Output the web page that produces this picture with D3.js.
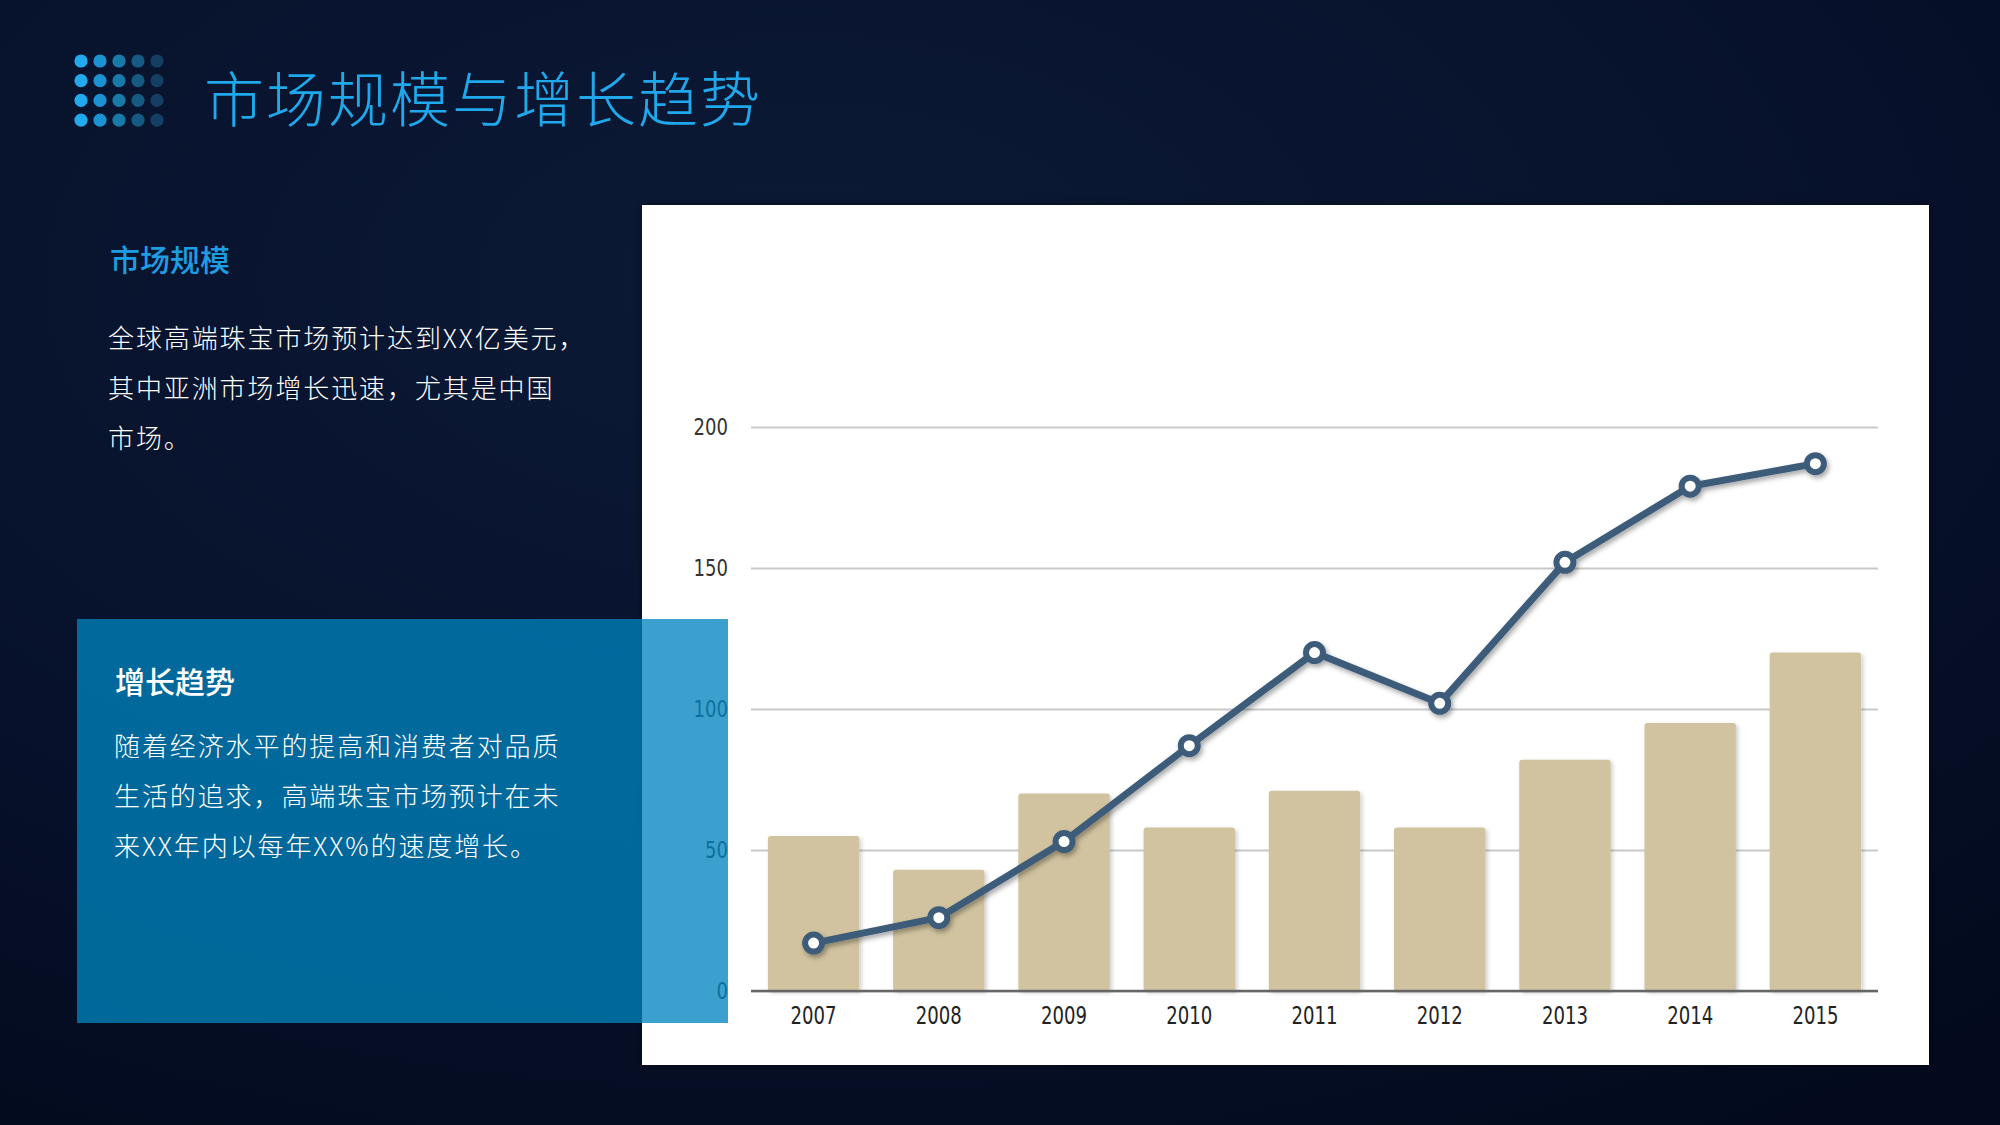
<!DOCTYPE html>
<html><head><meta charset="utf-8">
<script src="https://cdn.jsdelivr.net/npm/d3@7/dist/d3.min.js"></script>
<style>
html,body{margin:0;padding:0;background:#07112a;}
svg{display:block;}
</style></head>
<body>
<svg id="chart" width="2000" height="1125"></svg>
<script>
const years = ["2007","2008","2009","2010","2011","2012","2013","2014","2015"];
const barValues = [55, 43, 70, 58, 71, 58, 82, 95, 120];
const lineValues = [17, 26, 53, 87, 120, 102, 152, 179, 187];
const yTicks = [0, 50, 100, 150, 200];

const title = "市场规模与增长趋势";
const sec1Title = "市场规模";
const sec1Lines = ["全球高端珠宝市场预计达到XX亿美元，", "其中亚洲市场增长迅速，尤其是中国", "市场。"];
const sec2Title = "增长趋势";
const sec2Lines = ["随着经济水平的提高和消费者对品质", "生活的追求，高端珠宝市场预计在未", "来XX年内以每年XX%的速度增长。"];

const svg = d3.select("#chart");
const W = 2000, H = 1125;
const defs = svg.append("defs");

// background
const bg = defs.append("radialGradient").attr("id","bg").attr("cx","0.4").attr("cy","0.25").attr("r","0.9");
bg.append("stop").attr("offset","0").attr("stop-color","#0c1a36");
bg.append("stop").attr("offset","0.6").attr("stop-color","#07112b");
bg.append("stop").attr("offset","1").attr("stop-color","#030a1d");
svg.append("rect").attr("width",W).attr("height",H).attr("fill","url(#bg)");

const sh = defs.append("filter").attr("id","shadow").attr("x","-10%").attr("y","-10%").attr("width","130%").attr("height","130%");
sh.append("feDropShadow").attr("dx",2).attr("dy",3).attr("stdDeviation",2.5).attr("flood-color","#000").attr("flood-opacity",0.35);
const shBar = defs.append("filter").attr("id","shadowBar").attr("x","-10%").attr("y","-10%").attr("width","130%").attr("height","130%");
shBar.append("feDropShadow").attr("dx",2).attr("dy",2).attr("stdDeviation",2).attr("flood-color","#000").attr("flood-opacity",0.2);
const shPanel = defs.append("filter").attr("id","shadowPanel").attr("x","-5%").attr("y","-5%").attr("width","110%").attr("height","110%");
shPanel.append("feDropShadow").attr("dx",0).attr("dy",0).attr("stdDeviation",4).attr("flood-color","#000").attr("flood-opacity",0.5);

// dot grid icon
const dotCols = ["#22aaee","#1b92d2","#177aa9","#155a82","#153f62"];
const dotG = svg.append("g");
for (let r = 0; r < 4; r++) for (let c = 0; c < 5; c++) {
  dotG.append("circle").attr("cx", 81 + c*19).attr("cy", 61 + r*19.7).attr("r", 6.6).attr("fill", dotCols[c]);
}

// title
svg.append("text").attr("x", 204).attr("y", 122).text(title)
  .attr("font-family","'Noto Sans CJK SC', sans-serif").attr("font-weight",300)
  .attr("font-size",60).attr("letter-spacing",2).attr("fill","#1fa9ec");

// section 1
svg.append("text").attr("x", 110).attr("y", 271).text(sec1Title)
  .attr("font-family","'Noto Sans CJK SC', sans-serif").attr("font-weight",500)
  .attr("font-size",30).attr("fill","#1e9de2");
sec1Lines.forEach((t,i)=>{
  svg.append("text").attr("x",108).attr("y",348 + i*50).text(t)
    .attr("font-family","'Noto Sans CJK SC', sans-serif").attr("font-weight",300)
    .attr("font-size",26).attr("letter-spacing",1.9).attr("fill","#ffffff");
});

// white chart panel
svg.append("rect").attr("x",642).attr("y",205).attr("width",1287).attr("height",860)
  .attr("fill","#ffffff").attr("filter","url(#shadowPanel)");

// scales
const x = d3.scaleBand().domain(years).range([751, 1878]).paddingInner(0.27).paddingOuter(0.135);
const y = d3.scaleLinear().domain([0, 200]).range([991, 427]);

const numFont = "'Liberation Sans Narrow','DejaVu Sans Condensed','Noto Sans',sans-serif";

// grid + y axis
const yAxis = svg.append("g").attr("transform","translate(751,0)")
  .call(d3.axisLeft(y).tickValues(yTicks).tickSize(-(1878-751)).tickPadding(23));
yAxis.select(".domain").remove();
yAxis.selectAll(".tick line").attr("stroke","#c9c9c9").attr("stroke-width",2);
yAxis.selectAll(".tick text").attr("font-family",numFont)
  .attr("font-size",23).attr("fill","#333")
  .attr("textLength",d=>String(d).length*11.5).attr("lengthAdjust","spacingAndGlyphs");

// bars
svg.append("g").selectAll("rect").data(barValues).join("rect")
  .attr("x",(d,i)=>x(years[i])).attr("width",x.bandwidth())
  .attr("y",d=>y(d)).attr("height",d=>y(0)-y(d))
  .attr("rx",3).attr("fill","#d1c39f").attr("filter","url(#shadowBar)");

// baseline
svg.append("line").attr("x1",751).attr("x2",1878).attr("y1",y(0)).attr("y2",y(0))
  .attr("stroke","#666").attr("stroke-width",2.5);

// x axis labels
const xAxis = svg.append("g").attr("transform",`translate(0,${y(0)})`)
  .call(d3.axisBottom(x).tickSize(0).tickPadding(16));
xAxis.select(".domain").remove();
xAxis.selectAll(".tick text").attr("font-family",numFont)
  .attr("font-size",24).attr("fill","#222")
  .attr("textLength",46).attr("lengthAdjust","spacingAndGlyphs");

// line
const lineGen = d3.line().x((d,i)=>x(years[i]) + x.bandwidth()/2).y(d=>y(d));
const lg = svg.append("g").attr("filter","url(#shadow)");
lg.append("path").datum(lineValues).attr("d",lineGen).attr("fill","none")
  .attr("stroke","#3e5b7a").attr("stroke-width",7).attr("stroke-linejoin","round");
lg.selectAll("circle").data(lineValues).join("circle")
  .attr("cx",(d,i)=>x(years[i]) + x.bandwidth()/2).attr("cy",d=>y(d))
  .attr("r",8.5).attr("fill","#ffffff").attr("stroke","#3e5b7a").attr("stroke-width",6);

// blue box overlay
svg.append("rect").attr("x",77).attr("y",619).attr("width",651).attr("height",404)
  .attr("fill","rgb(0,132,190)").attr("fill-opacity",0.77);

svg.append("text").attr("x",115).attr("y",693).text(sec2Title)
  .attr("font-family","'Noto Sans CJK SC', sans-serif").attr("font-weight",500)
  .attr("font-size",30).attr("fill","#ffffff");
sec2Lines.forEach((t,i)=>{
  svg.append("text").attr("x",114).attr("y",756 + i*50).text(t)
    .attr("font-family","'Noto Sans CJK SC', sans-serif").attr("font-weight",300)
    .attr("font-size",26).attr("letter-spacing",1.9).attr("fill","#ffffff");
});
</script>
</body></html>
